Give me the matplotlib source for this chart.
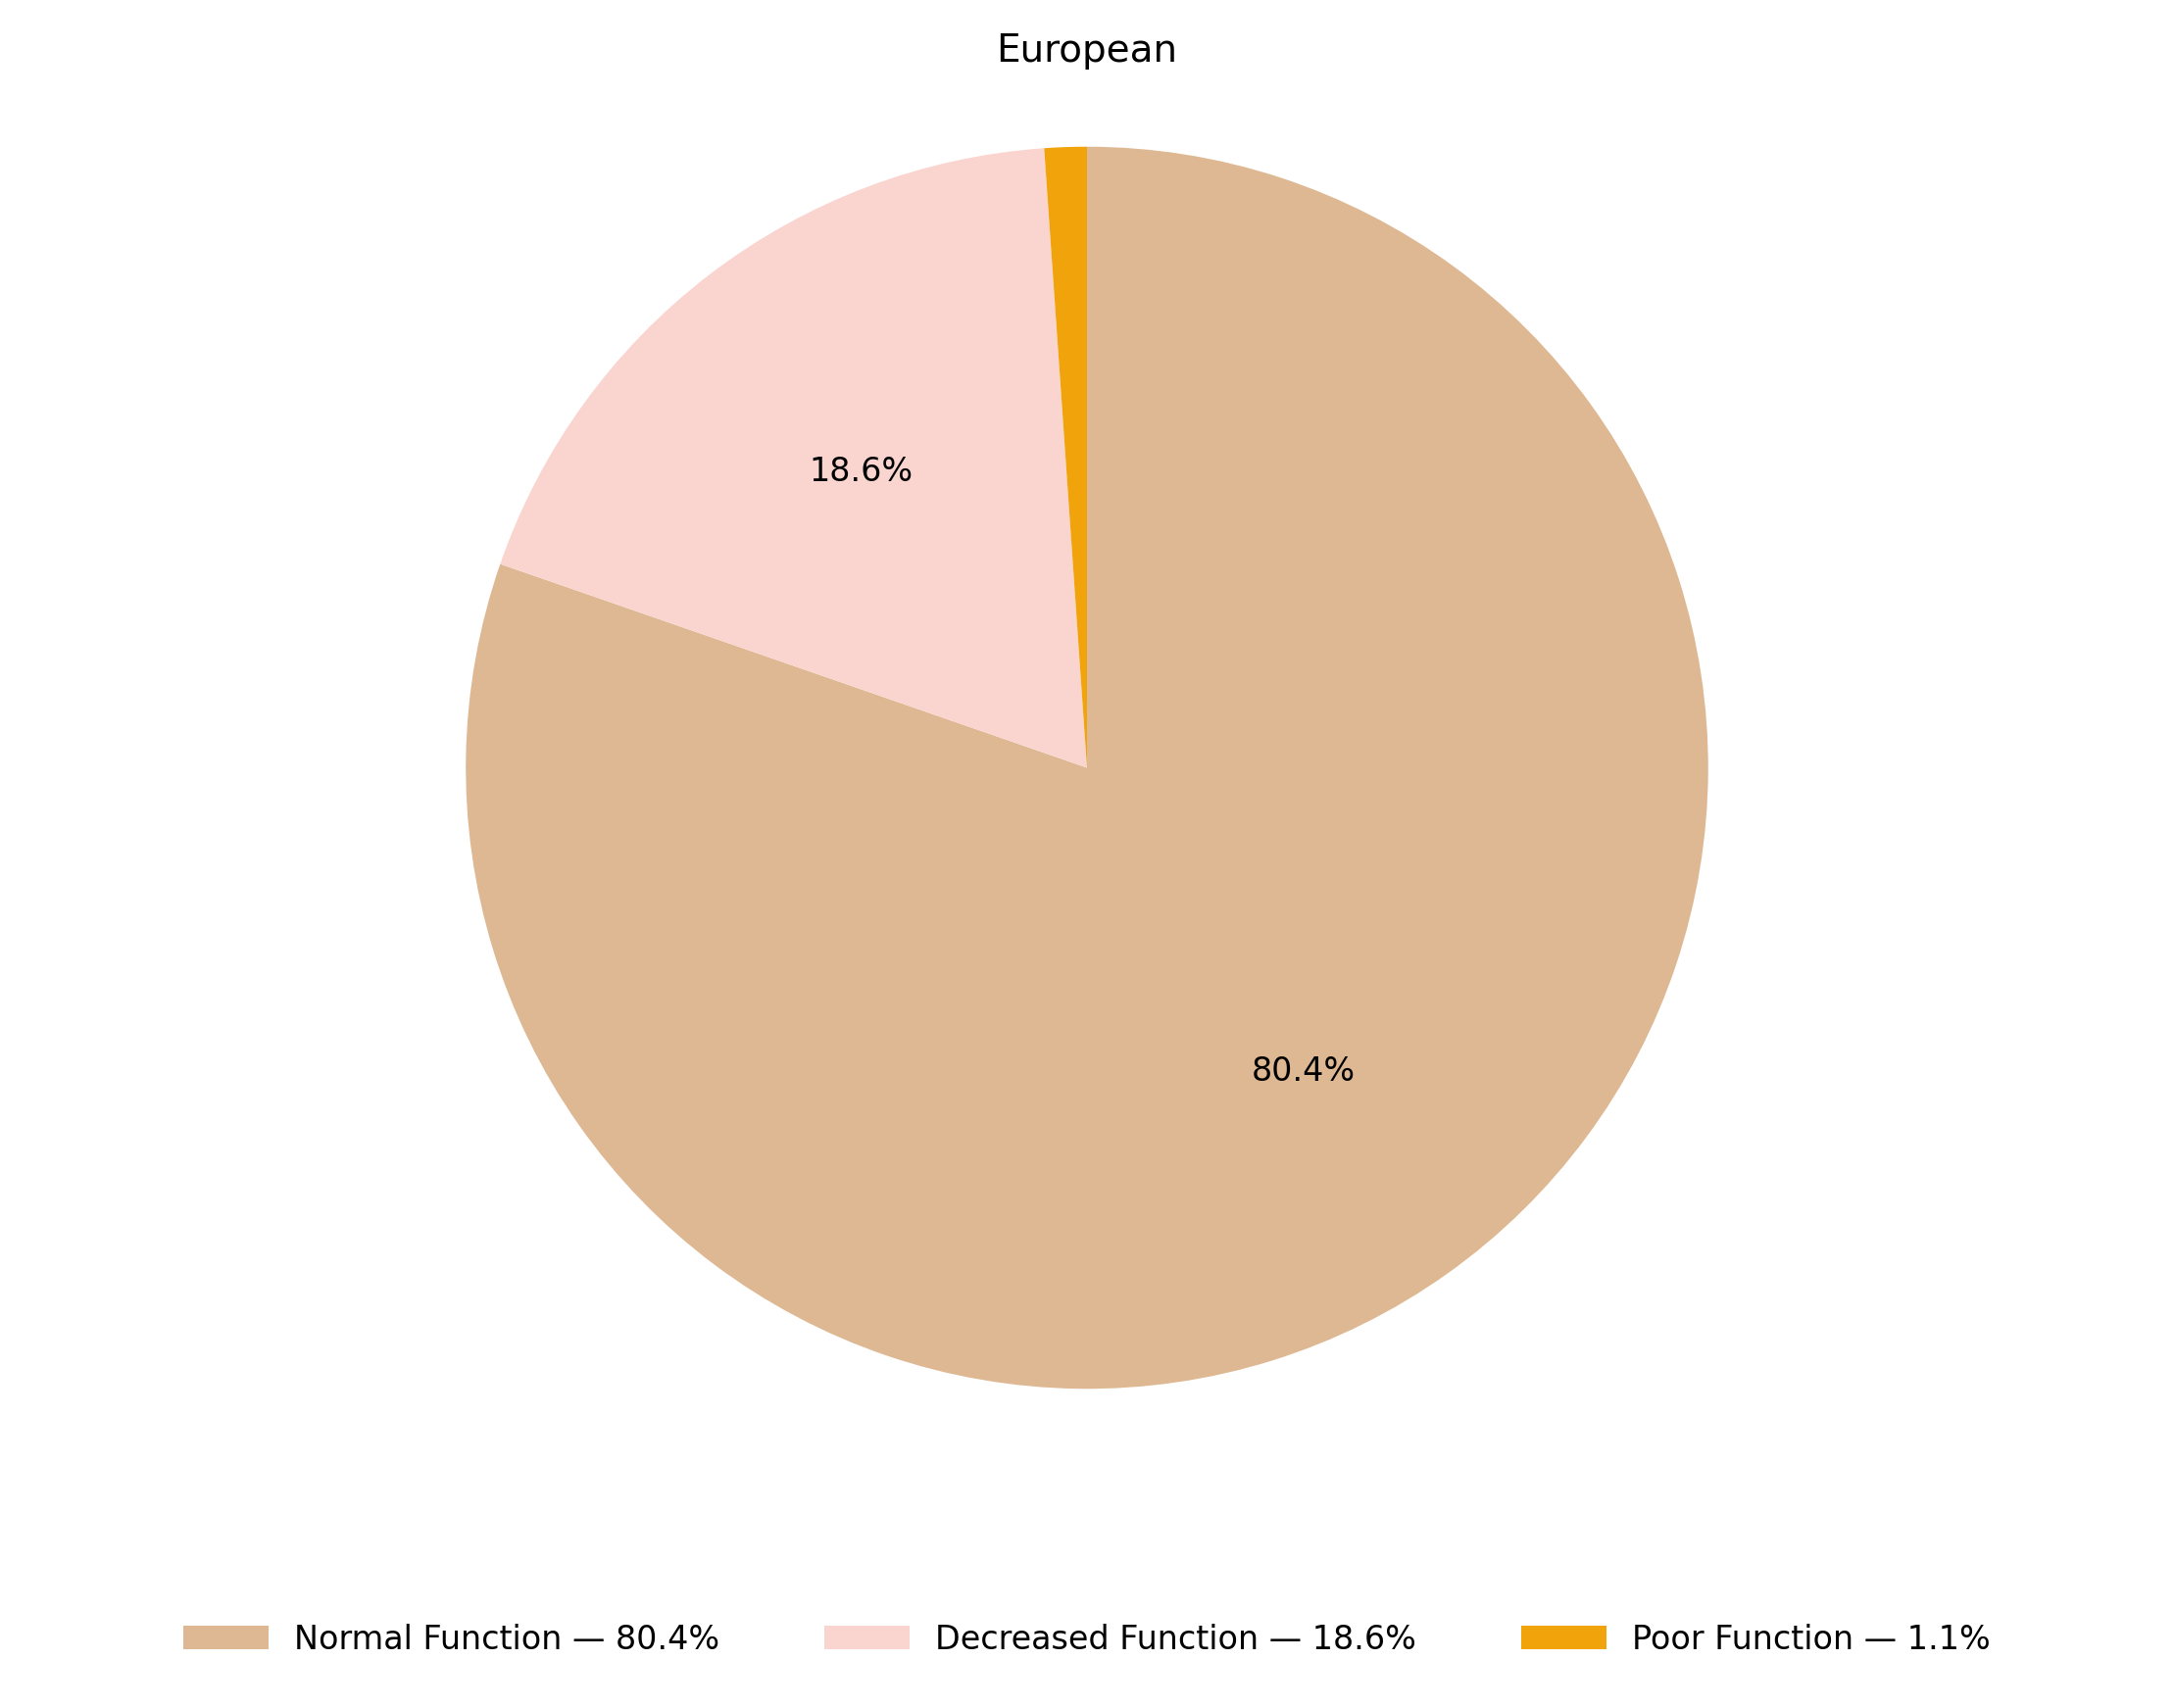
import matplotlib
matplotlib.use("Agg")
import matplotlib.pyplot as plt

categories = ["Normal Function", "Decreased Function", "Poor Function"]
values = [80.4, 18.6, 1.1]
colors = ["#DEB892", "#FAD5CF", "#F0A30B"]

fig = plt.figure(figsize=(11.09, 8.715), dpi=200)
ax = fig.add_axes([0, 0.096, 1, 0.909])

it = iter(values)
def fmt(p):
    v = next(it)
    return f"{v:.1f}%" if v >= 2 else ""

wedges, texts, autotexts = ax.pie(values, colors=colors, startangle=90, counterclock=False,
                                  autopct=fmt, pctdistance=0.6, textprops={"fontsize": 12})
ax.set_aspect("equal")
fig.text(0.5, 0.970, "European", ha="center", va="center", fontsize=14)
fig.legend(wedges, [f"{c} — {v:.1f}%" for c, v in zip(categories, values)],
           loc="center", bbox_to_anchor=(0.5, 0.040), ncol=3, frameon=False,
           fontsize=12, handlelength=2.6, columnspacing=3.2)
fig.savefig("out.png", dpi=200)
